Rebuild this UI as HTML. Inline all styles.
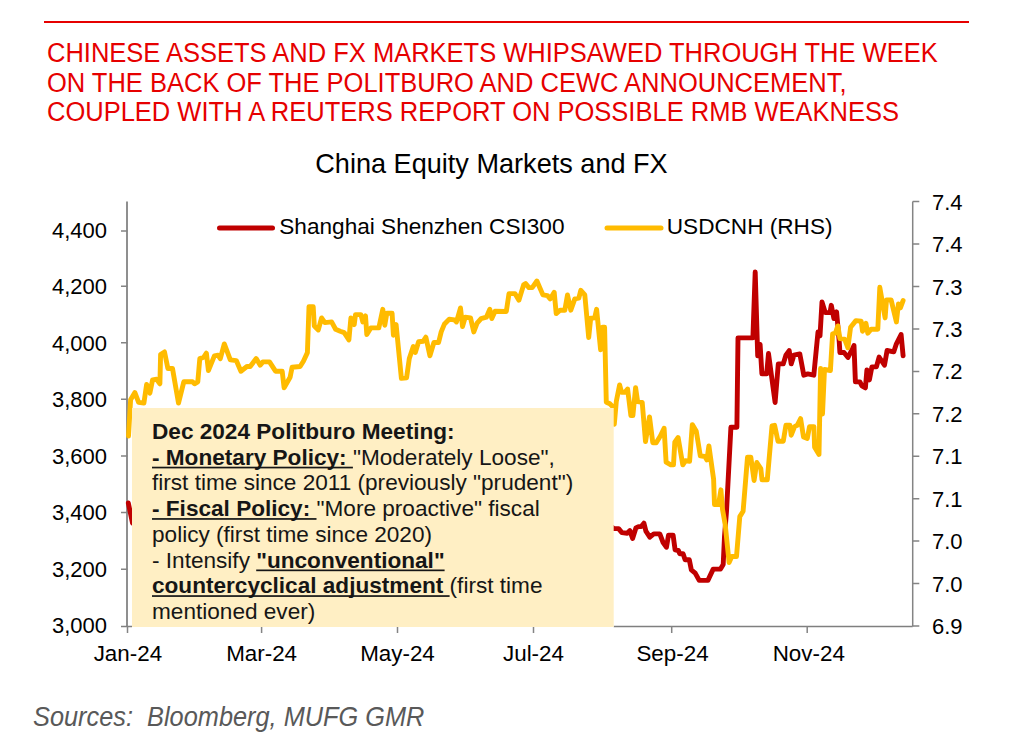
<!DOCTYPE html>
<html><head><meta charset="utf-8">
<style>
html,body{margin:0;padding:0;background:#fff;}
body{width:1022px;height:752px;overflow:hidden;position:relative;}
svg{position:absolute;left:0;top:0;}
text{font-family:"Liberation Sans",sans-serif;}
</style></head><body>
<svg width="1022" height="752" viewBox="0 0 1022 752">
<rect x="44" y="21" width="925" height="2" fill="#e60000"/>
<g fill="#e60000" font-size="27" transform="translate(47,0) scale(0.945,1)">
<text x="0" y="62.3">CHINESE ASSETS AND FX MARKETS WHIPSAWED THROUGH THE WEEK</text>
<text x="0" y="91.8">ON THE BACK OF THE POLITBURO AND CEWC ANNOUNCEMENT,</text>
<text x="0" y="121.1">COUPLED WITH A REUTERS REPORT ON POSSIBLE RMB WEAKNESS</text>
</g>
<text x="491.5" y="173.3" font-size="27.1" text-anchor="middle" fill="#000">China Equity Markets and FX</text>
<!-- axes -->
<g stroke="#848484" stroke-width="1.5" fill="none">
<path d="M912.7,201.6V626.5"/><path d="M127,201.6V626.5" stroke-width="2" stroke="#8f8f8f"/><path d="M121,626.5H132M613.7,626.5H912.7" stroke="#7f7f7f"/>
<path d="M121,230.9H127.5M121,286.2H127.5M121,342.7H127.5M121,399.2H127.5M121,455.9H127.5M121,512.4H127.5M121,569.3H127.5"/>
<path d="M912.7,201.6H919.3M912.7,244H919.3M912.7,286.5H919.3M912.7,328.9H919.3M912.7,371.4H919.3M912.7,413.8H919.3M912.7,456.3H919.3M912.7,498.7H919.3M912.7,541.1H919.3M912.7,583.6H919.3M912.7,626H919.3"/>
<path d="M127.5,626V633M261.6,626V633M397.5,626V633M533.5,626V633M671.7,626V633M807.2,626V633"/>
</g>
<g font-size="22" fill="#000" text-anchor="end">
<text x="107" y="237.8">4,400</text>
<text x="107" y="294.3">4,200</text>
<text x="107" y="350.8">4,000</text>
<text x="107" y="407.3">3,800</text>
<text x="107" y="463.7">3,600</text>
<text x="107" y="520.2">3,400</text>
<text x="107" y="576.7">3,200</text>
<text x="107" y="633.2">3,000</text>
</g>
<g font-size="22" fill="#000">
<text x="932" y="209.6">7.4</text>
<text x="932" y="252">7.4</text>
<text x="932" y="294.5">7.3</text>
<text x="932" y="336.9">7.3</text>
<text x="932" y="379.4">7.2</text>
<text x="932" y="421.8">7.2</text>
<text x="932" y="464.3">7.1</text>
<text x="932" y="506.7">7.1</text>
<text x="932" y="549.1">7.0</text>
<text x="932" y="591.6">7.0</text>
<text x="932" y="634">6.9</text>
</g>
<g font-size="22.4" fill="#000" text-anchor="middle">
<text x="127.9" y="661.2">Jan-24</text>
<text x="261.6" y="661.2">Mar-24</text>
<text x="397.5" y="661.2">May-24</text>
<text x="533.5" y="661.2">Jul-24</text>
<text x="672.5" y="661.2">Sep-24</text>
<text x="808.8" y="661.2">Nov-24</text>
</g>
<!-- legend -->
<g stroke-linecap="round" stroke-width="5">
<path d="M219.5,228H272.5" stroke="#c00000"/>
<path d="M607,228H661" stroke="#ffbb00"/>
</g>
<g font-size="22.6" fill="#000">
<text x="279.3" y="234.4">Shanghai Shenzhen CSI300</text>
<text x="666.8" y="234.4">USDCNH (RHS)</text>
</g>
<!-- LINES -->
<polyline points="128.3,503 132.5,523 140,530" fill="none" stroke="#c00000" stroke-width="4.9" stroke-linejoin="round" stroke-linecap="round"/>
<polyline points="612,527 613.9,528.6 618.6,528.6 621.9,532.6 627.2,533.2 629.9,530.6 632.6,538.5 635.9,527.9 638.5,526.6 641.2,526.6 643.9,523.2 645.9,531.2 649.8,537.2 653.8,533.9 659.8,533.9 663.1,542.5 666.5,547.2 668.5,535.2 673.1,535.2 675.1,549.8 678.4,550.5 679.8,553.8 683.1,553.8 685.1,559.8 689.3,559.8 691.3,569.8 695.2,573.1 699.2,580.4 707.9,580.4 713.2,569.1 720.5,569.1 723.2,564.5 724.5,536.5 726.5,511.3 730.9,427.3 736.9,427.3 738,337.9 752.9,337.9 755.2,272 757.7,355.9 760.1,344.5 761.9,373.8 766.7,373.8 768.5,353.5 775.1,402.5 778.3,363.9 783.2,363.9 785.9,355.2 789.2,350.6 791.2,363.9 793.9,355.2 799.8,353.9 803.8,375.2 807.8,373.9 813.8,375.2 818,331.9 820,335.9 822,301.9 825.3,312.6 830,312.6 831.3,305.3 833.9,318.6 836.6,311.9 839.3,342.5 839.9,352.5 844,352.5 848,357.5 854,345.5 855.4,381.9 859.9,381.9 861.9,385.9 865.4,387.9 866.9,369.9 869.4,379.9 871.9,366.9 876.4,366.9 879.1,357.1 884.5,365.1 887.1,350.5 893.8,351.8 896.4,343.8 901.1,334.5 903.1,355.8" fill="none" stroke="#c00000" stroke-width="4.9" stroke-linejoin="round" stroke-linecap="round"/>
<polyline points="128.5,436 130.6,399.8 134.9,392.5 138.6,402.4 143.9,403.1 146.6,384.5 149.9,393.1 152.6,379.8 156.6,379.2 159.9,383.8 160.6,354.6 164.5,351.9 167.9,368.5 172.5,368.5 178.5,403.1 183.8,381.8 192.5,381.8 194.5,383.8 197.8,381.8 199.8,358.6 203.8,357.2 206.4,353.2 208.4,370.5 214.4,355.9 218,355.2 220.3,358.6 224.3,343.9 230.3,359.9 236.3,360.6 240.9,371.2 246.9,366.5 250.2,366.5 256.2,358.6 260.2,365.2 262.9,361.9 269.5,361.9 275.5,371.2 282.2,371.2 284.1,387.8 290.1,377.2 292.1,367.2 300.1,366.5 303.4,361.2 307.4,352.6 309,306.6 313.2,306.6 314.3,325.9 318.3,329.9 321.6,317.9 324.9,322.6 331.6,321.9 335.6,329.2 340.2,331.2 344.2,332.6 348.9,339.9 350.9,317.9 354.2,324.6 355.5,314.6 360.9,314.6 362.8,321.9 365.5,315.9 366.8,334.5 370.8,327.9 378.8,327.9 382.8,309.3 384.8,325.2 386.8,313.3 392.1,313.3 393.4,335.2 396.1,324.6 401.4,378.4 406.6,377.7 409.3,358.5 413.3,346.5 415.3,352.5 418.6,341.8 423.3,341.2 425.9,337.2 429.9,355.8 433.9,342.5 438.6,342.5 441.2,331.9 444.5,323.9 449.2,319.2 454.5,319.9 456.5,321.9 460.5,307.9 462.5,326.5 465.2,317.2 470.5,317.9 473.8,331.9 477.1,323.2 481.1,318.6 486.4,317.2 489.8,309.3 491.8,318.6 495.1,311.3 506.3,311.5 509,293.6 514.9,293.6 518.9,300.2 523.6,284.9 525.6,283.6 528.9,287.6 532.2,287.6 536.9,281 542.9,294.9 547.5,295.6 550.2,298.9 554.2,292.3 556.2,313.5 560.2,310.2 564.8,310.2 567.5,294.9 570.8,310.2 574.8,298.9 578.8,298.2 580.8,290.3 584.8,294.9 588.7,337.5 590.7,318.2 594.7,317.9 596.6,309.3 600.6,349.8 602.6,327.2 604.6,327.2 606.3,402.3 609.6,403.6 612.3,406.3 614.3,424.2 616.3,401.6 619.6,385 621.6,392.3 624.9,392.3 627.6,389 630.9,415.6 632.9,415.6 635.6,387.6 637.6,401.6 642.2,402.3 645.5,441.5 649.5,416.9 652.8,442.8 656.2,442.8 660.2,436.2 664.1,428.2 666.1,462.1 670.8,464.8 673.5,464.8 674.8,442.2 678.1,437.5 682.8,464.8 685.4,460.8 689.6,461.2 692.3,424.6 696.3,431.3 700.3,455.9 704.9,456.5 706.9,459.9 708.9,445.9 713.6,479.1 714.5,504.6 718.5,504.6 720.9,489.8 722.5,509.3 725.2,524.6 729.1,562.5 731.8,556.5 736.5,556.5 739.8,516.6 743.1,511.3 747.5,457.2 750.8,457.2 754.1,480.5 756.8,462.5 760.8,468.5 762,479.8 767.3,479.8 772,425.9 774.6,425.3 778,441.2 783.3,441.2 785.9,425.3 789.9,425.3 791.2,435.2 794.6,426.6 797.2,425.3 800.6,418.6 803.5,436.9 807.3,438.4 809.5,426.7 813.9,426.7 814.6,447.2 819,454.5 820.6,368.5 822.5,414 824.5,369.5 830.4,370.5 832.6,333.9 835.3,333.2 837.9,325.9 839.9,338.5 844.6,339.2 847.9,347.8 850.6,327.2 855.9,320.6 861.2,321.2 862.5,331.2 865.9,323.2 867.8,333.2 871.2,329.2 877.8,329.2 879.8,287.3 885.1,317.9 886.5,299.9 891.1,299.9 896.4,321.9 898.4,303.9 900.4,307.9 903.1,300.6" fill="none" stroke="#ffbb00" stroke-width="4.9" stroke-linejoin="round" stroke-linecap="round"/>

<!-- box -->
<rect x="132" y="408" width="481.7" height="219" fill="#ffefc4"/>
<g font-size="22.6" fill="#161616">
<text x="152" y="439" font-weight="bold">Dec 2024 Politburo Meeting:</text>
<text x="152" y="464.7"><tspan font-weight="bold">- Monetary Policy: </tspan>"Moderately Loose",</text>
<text x="152" y="490.4">first time since 2011 (previously "prudent")</text>
<text x="152" y="516.1"><tspan font-weight="bold">- Fiscal Policy: </tspan>"More proactive" fiscal</text>
<text x="152" y="541.8">policy (first time since 2020)</text>
<text x="152" y="567.5">- Intensify <tspan font-weight="bold">"unconventional"</tspan></text>
<text x="152" y="593.2"><tspan font-weight="bold">countercyclical adjustment </tspan>(first time</text>
<text x="152" y="618.9">mentioned ever)</text>
</g>
<g fill="#161616">
<rect x="152" y="466.7" width="200.9" height="1.7"/>
<rect x="152" y="518.1" width="164.5" height="1.7"/>
<rect x="256.2" y="569.5" width="188.4" height="1.7"/>
<rect x="152" y="595.2" width="297.6" height="1.7"/>
</g>
<text x="0" y="725.8" font-size="27" font-style="italic" fill="#595959" xml:space="preserve" transform="translate(33,0) scale(0.939,1)">Sources:  Bloomberg, MUFG GMR</text>
</svg>
</body></html>
